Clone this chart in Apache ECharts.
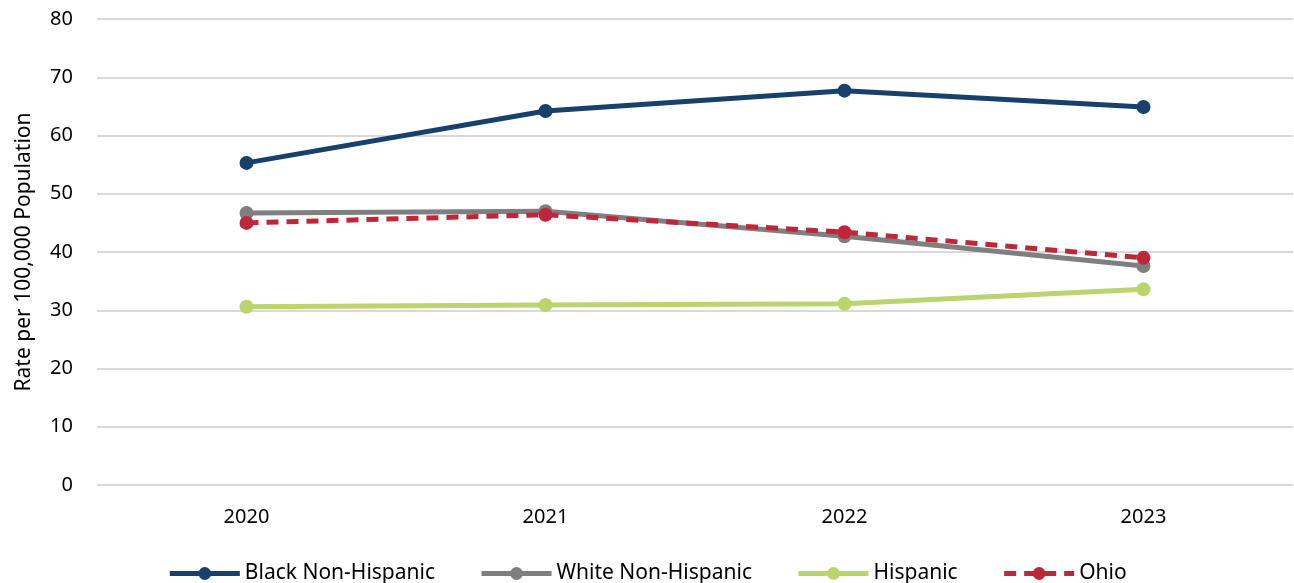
<!DOCTYPE html>
<html>
<head>
<meta charset="utf-8">
<script src="https://cdn.jsdelivr.net/npm/echarts@6/dist/echarts.min.js"></script>
<style>
	html, body { margin: 0; padding: 0; background: #fff; }
	#chart { width: 1294px; height: 583px; }
</style>
</head>
<body>
<div id="chart"></div>
<script>
var years = ['2020', '2021', '2022', '2023'];
var blackNH = [55.3, 64.2, 67.7, 64.9];
var whiteNH = [46.7, 47.0, 42.7, 37.6];
var hispanic = [30.6, 30.9, 31.1, 33.6];
var ohio = [45.0, 46.4, 43.4, 39.0];
var yTicks = [0, 10, 20, 30, 40, 50, 60, 70, 80];

var font = '"Noto Sans", sans-serif';
function line(name, data, color, dashed) {
	return {
		name: name,
		type: 'line',
		data: data,
		symbol: 'circle',
		symbolSize: 14,
		lineStyle: { color: color, width: 5, type: dashed ? [12, 8] : 'solid' },
		itemStyle: { color: color },
		emphasis: { disabled: true }
	};
}

var myChart = echarts.init(document.getElementById('chart'));
var option = {
	animation: false,
	grid: { left: 97, right: 1, top: 19, bottom: 98 },
	legend: {
		top: 558,
		left: 'center',
		itemWidth: 70,
		itemHeight: 16,
		itemGap: 44,
		lineStyle: { width: 5 },
		textStyle: { fontFamily: font, fontSize: 21, color: '#000' },
		data: ['Black Non-Hispanic', 'White Non-Hispanic', 'Hispanic', 'Ohio']
	},
	xAxis: {
		type: 'category',
		data: years,
		boundaryGap: true,
		axisLine: { show: false },
		axisTick: { show: false },
		axisLabel: { fontFamily: font, fontSize: 20, color: '#000', margin: 22 }
	},
	yAxis: {
		type: 'value',
		min: yTicks[0],
		max: yTicks[yTicks.length - 1],
		interval: 10,
		name: 'Rate per 100,000 Population',
		nameLocation: 'middle',
		nameGap: 62,
		nameTextStyle: { fontFamily: font, fontSize: 21, color: '#000' },
		axisLabel: { fontFamily: font, fontSize: 20, color: '#000', margin: 24 },
		splitLine: { lineStyle: { color: '#d9d9d9', width: 2 } }
	},
	series: [
		line('Black Non-Hispanic', blackNH, '#17406d', false),
		line('White Non-Hispanic', whiteNH, '#7f7f7f', false),
		line('Hispanic', hispanic, '#bbd46e', false),
		line('Ohio', ohio, '#c0263a', true)
	]
};
myChart.setOption(option);
</script>
</body>
</html>
